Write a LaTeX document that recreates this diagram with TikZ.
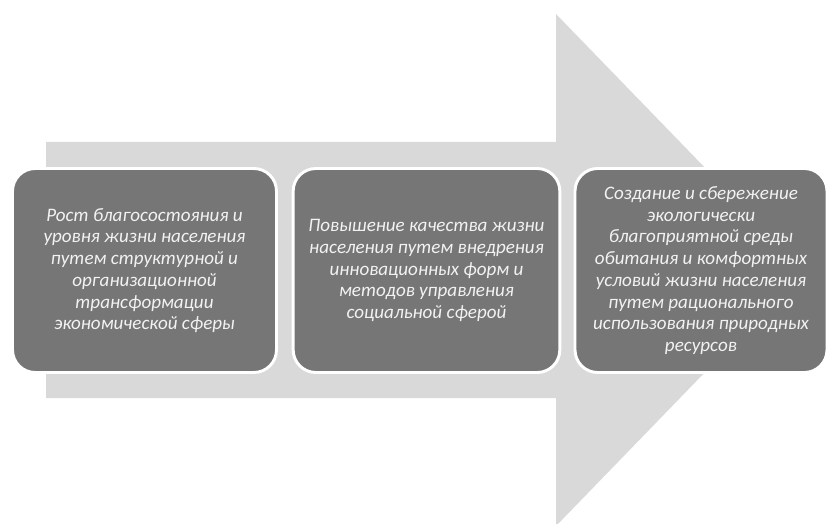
\documentclass[tikz,border=0pt]{standalone}
\usepackage{fontspec}
\setmainfont{Carlito}
\usetikzlibrary{positioning}
\definecolor{arrgray}{HTML}{D9D9D9}
\definecolor{boxgray}{HTML}{767676}
\definecolor{txtgray}{HTML}{F2F2F2}
\tikzset{goal/.style = {rectangle, rounded corners = 17pt, fill = boxgray, draw = white,
    line width = 2.2pt, minimum height = 153pt, align = center, inner sep = 0,
    text = txtgray, font = \fontsize{14.3}{16.3}\selectfont\itshape}}

\begin{document}
\begin{tikzpicture}[x = 0.75pt, y = -0.75pt]
    \useasboundingbox (0, 0) rectangle (828, 524);

    % big arrow behind the boxes
    \fill [arrgray] (46, 142) -- (556, 142) -- (556, 14) -- (804, 270)
        -- (556, 526) -- (556, 398) -- (46, 398) -- cycle;

    \node [goal, minimum width = 198pt] (growth) at (144.5, 270.5)
        {Рост благосостояния и\\ уровня жизни населения\\ путем структурной и\\
         организационной\\ трансформации\\ экономической сферы};
    \node [goal, minimum width = 200pt] (quality) at (426.5, 270.5)
        {Повышение качества жизни\\ населения путем внедрения\\
         инновационных форм и\\ методов управления\\ социальной сферой};
    \node [goal, minimum width = 189pt] (ecology) at (701, 270.5)
        {Создание и сбережение\\ экологически\\ благоприятной среды\\
         обитания и комфортных\\ условий жизни населения\\ путем рационального\\
         использования природных\\ ресурсов};
\end{tikzpicture}
\end{document}
